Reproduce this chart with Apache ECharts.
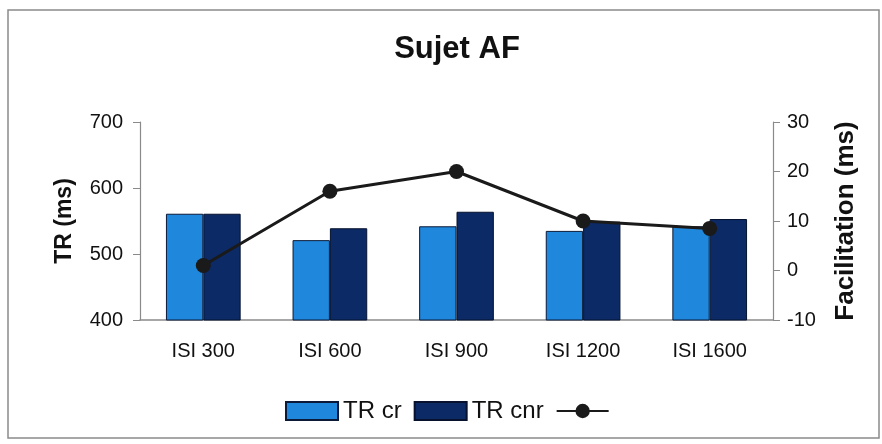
<!DOCTYPE html>
<html><head><meta charset="utf-8">
<script src="https://cdn.jsdelivr.net/npm/echarts@6/dist/echarts.min.js"></script>
<style>html,body{margin:0;padding:0;background:#fff}#c{width:882px;height:444px}</style>
</head><body><div id="c"></div>
<script>
const categories = ['ISI 300','ISI 600','ISI 900','ISI 1200','ISI 1600'];
const trCr = [561, 521, 542, 535, 542];
const trCnr = [561, 539, 564, 549, 553];
const facilitation = [1, 16, 20, 10, 8.5];
const leftTicks = [400, 500, 600, 700];
const rightTicks = [-10, 0, 10, 20, 30];

const font = 'Liberation Sans, Arial, sans-serif';
const chart = echarts.init(document.getElementById('c'));
chart.setOption({
  animation: false,
  backgroundColor: '#fff',
  graphic: [{type:'rect', shape:{x:8,y:10,width:871,height:428}, style:{fill:'none', stroke:'#8a8a8a', lineWidth:1.5}, silent:true}],
  title: {text:'Sujet AF', left: 452, top: 29, textAlign:'center',
    textStyle:{fontFamily:font, fontWeight:'bold', fontSize:31, color:'#111'}},
  grid: {left:140, right:109, top:122, bottom:124},
  legend: {top: 394, left: 280, itemWidth: 52, itemHeight: 18, itemGap: 12,
    textStyle:{fontFamily:font, fontSize:24, color:'#111'},
    formatter: n => n === 'Facilitation' ? '' : n,
    data:[{name:'TR cr', icon:'rect'},{name:'TR cnr', icon:'rect'},{name:'Facilitation'}]},
  xAxis: {type:'category', data: categories,
    axisLine:{onZero:false, lineStyle:{color:'#8a8a8a', width:1.5}}, axisTick:{show:false},
    axisLabel:{fontFamily:font, fontSize:20, color:'#111', margin:21}},
  yAxis: [
    {type:'value', min:400, max:700, interval:100, name:'TR (ms)', nameLocation:'middle', nameGap:64, nameRotate:90,
      nameTextStyle:{fontFamily:font, fontWeight:'bold', fontSize:23, color:'#111'},
      axisLine:{show:true, lineStyle:{color:'#8a8a8a', width:1.2}}, axisTick:{show:true, length:7, lineStyle:{color:'#8a8a8a'}},
      splitLine:{show:false}, axisLabel:{fontFamily:font, fontSize:20, color:'#111', margin:17,
        formatter: v => leftTicks.includes(v) ? String(v) : ''}},
    {type:'value', min:-10, max:30, interval:10, name:'Facilitation (ms)', nameLocation:'middle', nameGap:60, nameRotate:90,
      nameTextStyle:{fontFamily:font, fontWeight:'bold', fontSize:26, color:'#111'},
      axisLine:{show:true, lineStyle:{color:'#8a8a8a', width:1.2}}, axisTick:{show:true, length:7, lineStyle:{color:'#8a8a8a'}},
      splitLine:{show:false}, axisLabel:{fontFamily:font, fontSize:20, color:'#111', margin:14,
        formatter: v => rightTicks.includes(v) ? String(v) : ''}}
  ],
  series: [
    {name:'TR cr', type:'bar', data: trCr, barGap:'0%', barCategoryGap:'41%',
      itemStyle:{color:'#1f87dc', borderColor:'#0b1a38', borderWidth:1}},
    {name:'TR cnr', type:'bar', data: trCnr,
      itemStyle:{color:'#0b2a66', borderColor:'#06122e', borderWidth:1}},
    {name:'Facilitation', type:'line', yAxisIndex:1, data: facilitation, symbol:'circle', symbolSize:15,
      lineStyle:{color:'#1a1a1a', width:3}, itemStyle:{color:'#1a1a1a'}}
  ]
});
</script></body></html>
